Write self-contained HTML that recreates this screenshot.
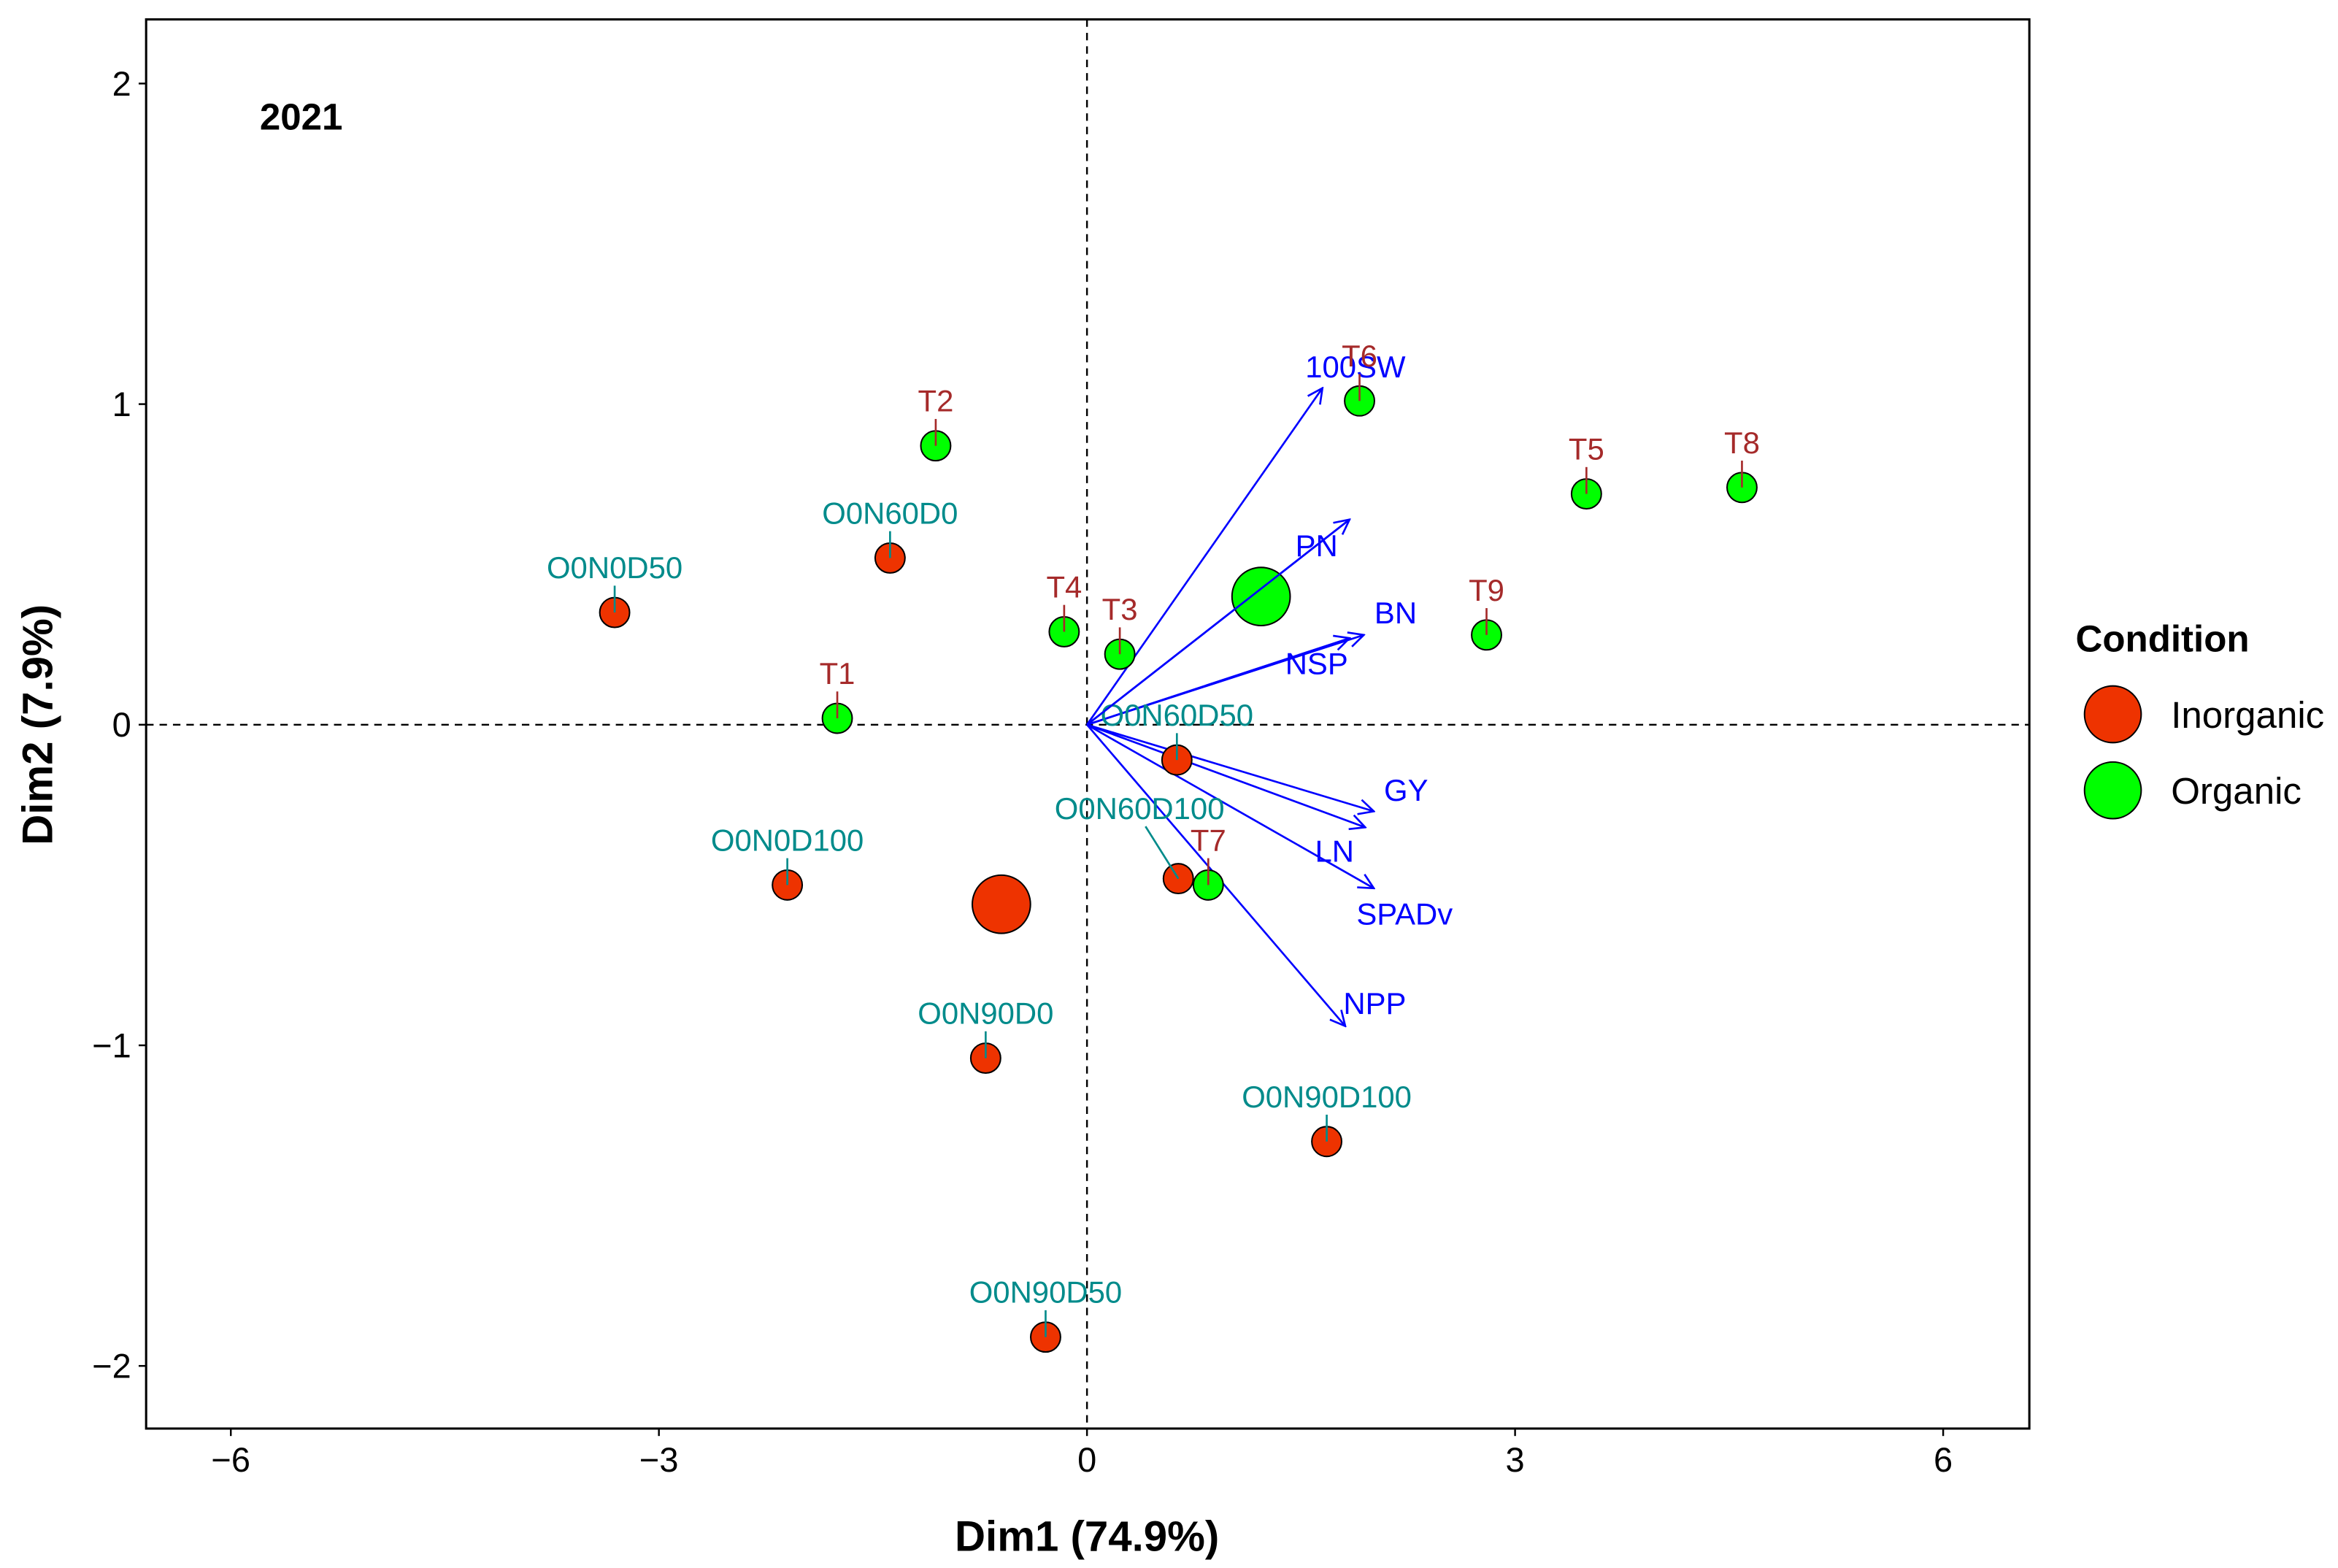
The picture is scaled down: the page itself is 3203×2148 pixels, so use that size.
<!DOCTYPE html>
<html><head><meta charset="utf-8"><style>
html,body{margin:0;padding:0;background:#fff;}
svg{display:block;font-family:"Liberation Sans",Arial,sans-serif;}
</style></head><body>
<svg id="chart" width="3203" height="2148" viewBox="0 0 1568 1051.5" xmlns="http://www.w3.org/2000/svg">
<defs><marker id="ah" viewBox="0 0 12 12" refX="11" refY="6" markerWidth="12" markerHeight="12" markerUnits="userSpaceOnUse" orient="auto"><path d="M1,1 L11,6 L1,11" fill="none" stroke="#0000FF" stroke-width="1.3"/></marker></defs>
<rect x="0" y="0" width="1568" height="1051.5" fill="#fff"/>
<g id="plot"></g>
</svg>
<script>
const xTicks=[-6,-3,0,3,6];
const yTicks=[-2,-1,0,1,2];
const ptNames=["O0N0D50","O0N60D0","T2","T1","T4","T3","T6","T5","T8","T9","O0N60D50","O0N60D100","T7","O0N0D100","O0N90D0","O0N90D100","O0N90D50"];
const ptX=[-3.31,-1.38,-1.06,-1.75,-0.16,0.23,1.91,3.50,4.59,2.80,0.63,0.64,0.85,-2.10,-0.71,1.68,-0.29];
const ptY=[0.35,0.52,0.87,0.02,0.29,0.22,1.01,0.72,0.74,0.28,-0.11,-0.48,-0.50,-0.50,-1.04,-1.30,-1.91];
const ptGroup=["Inorganic","Inorganic","Organic","Organic","Organic","Organic","Organic","Organic","Organic","Organic","Inorganic","Inorganic","Organic","Inorganic","Inorganic","Inorganic","Inorganic"];
const centGroup=["Inorganic","Organic"];
const centX=[-0.60,1.22];
const centY=[-0.56,0.40];
const varNames=["100SW","PN","BN","NSP","GY","LN","SPADv","NPP"];
const varX=[1.65,1.84,1.94,1.84,2.01,1.95,2.01,1.81];
const varY=[1.05,0.64,0.28,0.27,-0.27,-0.32,-0.51,-0.94];

const L=98,R=1361,T=13,B=958;
function sx(v){return 729+v*95.7;}
function sy(v){return 486-v*215;}
const NS="http://www.w3.org/2000/svg";
const g=document.getElementById('plot');
function mk(tag,attrs,parent){const e=document.createElementNS(NS,tag);for(const k in attrs)e.setAttribute(k,attrs[k]);(parent||g).appendChild(e);return e;}
const fill={Inorganic:"#EE3300",Organic:"#00FF00"};

let e=mk('line',{x1:L,x2:R,y1:sy(0),y2:sy(0),stroke:'#000','stroke-width':1.2,'stroke-dasharray':'5,4'});


e=mk('line',{x1:sx(0),x2:sx(0),y1:T,y2:B,stroke:'#000','stroke-width':1.2,'stroke-dasharray':'5,4'});



varNames.forEach((n,i)=>{
  const x2=sx(varX[i]),y2=sy(varY[i]);
  const a=mk('line',{x1:sx(0),y1:sy(0),x2:x2,y2:y2,stroke:'#0000FF','stroke-width':1.3,'marker-end':'url(#ah)'});
  
  
});
const varLab={"100SW":[909,253],"PN":[883,373],"BN":[936,418],"NSP":[883,452],"GY":[943,537],"LN":[895,578],"SPADv":[942,620],"NPP":[922,680]};
varNames.forEach((n,i)=>{
  const p=varLab[n];
  const t=mk('text',{x:p[0],y:p[1],'text-anchor':'middle','font-size':20.5,fill:'#0000FF'});
  t.textContent=n;
  
  
});

ptNames.forEach((n,i)=>{
  const cx=sx(ptX[i]),cy=sy(ptY[i]);
  const c=mk('circle',{cx:cx,cy:cy,r:10,fill:fill[ptGroup[i]],stroke:'#000','stroke-width':1});
  
  
  const col=n[0]==='T'?'#A52A2A':'#008B8B';
  let lx=cx,ly=cy-23,segX=cx,segY=cy-18;
  if(n==='O0N60D100'){lx=cx-26;ly=cy-40;segX=cx-22;segY=cy-35;}
  const s=mk('line',{x1:cx,y1:cy,x2:segX,y2:segY,stroke:col,'stroke-width':1.3});
  
  
  const t=mk('text',{x:lx,y:ly,'text-anchor':'middle','font-size':20.5,fill:col});
  t.textContent=n;
  
  
});
centGroup.forEach((n,i)=>{
  const c=mk('circle',{cx:sx(centX[i]),cy:sy(centY[i]),r:19.5,fill:fill[n],stroke:'#000','stroke-width':1});
  
  
});
e=mk('line',{x1:sx(0),y1:sy(0),x2:sx(varX[1]),y2:sy(varY[1]),stroke:'#0000FF','stroke-width':1.3});



e=mk('rect',{x:L,y:T,width:R-L,height:B-T,fill:'none',stroke:'#000','stroke-width':1.5});


xTicks.forEach(v=>{
  const tk=mk('line',{x1:sx(v),x2:sx(v),y1:B,y2:B+5,stroke:'#000','stroke-width':1.2});
  
  
  const t=mk('text',{x:sx(v),y:B+29,'text-anchor':'middle','font-size':23,fill:'#000'});
  t.textContent=v<0?'\u2212'+(-v):String(v);
  
  
});
yTicks.forEach(v=>{
  const tk=mk('line',{x1:L-5,x2:L,y1:sy(v),y2:sy(v),stroke:'#000','stroke-width':1.2});
  
  
  const t=mk('text',{x:L-10,y:sy(v)+8,'text-anchor':'end','font-size':23,fill:'#000'});
  t.textContent=v<0?'\u2212'+(-v):String(v);
  
  
});
e=mk('text',{x:729,y:1040,'text-anchor':'middle','font-size':28.5,'font-weight':'bold',fill:'#000'});
e.textContent='Dim1 (74.9%)';


e=mk('text',{x:0,y:0,'text-anchor':'middle','font-size':28.5,'font-weight':'bold',fill:'#000',transform:'translate(35,486) rotate(-90)'});
e.textContent='Dim2 (7.9%)';


e=mk('text',{x:202,y:87,'text-anchor':'middle','font-size':25,'font-weight':'bold',fill:'#000'});
e.textContent='2021';


e=mk('text',{x:1392,y:437,'font-size':25,'font-weight':'bold',fill:'#000'});
e.textContent='Condition';


centGroup.forEach((n,i)=>{
  const y=479+i*51;
  const c=mk('circle',{cx:1417,cy:y,r:19,fill:fill[n],stroke:'#000','stroke-width':1});
  
  
  const t=mk('text',{x:1456,y:y+9,'font-size':25,fill:'#000'});
  t.textContent=n;
  
  
});
</script>
</body></html>
